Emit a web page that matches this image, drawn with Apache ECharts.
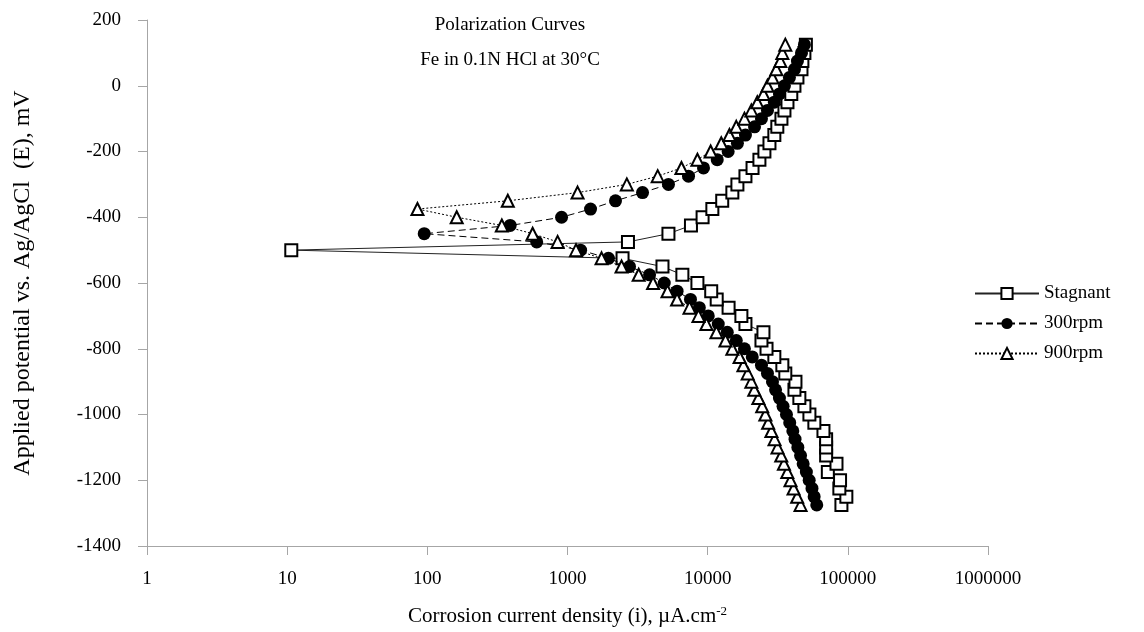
<!DOCTYPE html>
<html>
<head>
<meta charset="utf-8">
<script src="https://cdn.jsdelivr.net/npm/echarts@6/dist/echarts.min.js"></script>
<style>
  html, body { margin: 0; padding: 0; background: #fff; }
  #chart { width: 1144px; height: 632px; }
</style>
</head>
<body>
<div id="chart"></div>
<script>
// potential (mV), scan order from -1275 up to +125
const potential = [
  -1275, -1250, -1225, -1200, -1175, -1150, -1125, -1100, -1075, -1050,
  -1025, -1000, -975, -950, -925, -900, -875, -850, -825, -800,
  -775, -750, -725, -700, -675, -650, -625, -600, -575, -550,
  -525, -500, -475, -450, -425, -400, -375, -350, -325, -300,
  -275, -250, -225, -200, -175, -150, -125, -100, -75, -50,
  -25, 0, 25, 50, 75, 100, 125
]

// current density (uA/cm2) for each potential above
const stagnant = [
  90000, 97600, 87000, 88000, 72000, 83000, 70000, 70000, 70000, 67000,
  57700, 53200, 49000, 45100, 41600, 42300, 35800, 34100, 29900, 26300,
  24200, 25000, 18600, 17400, 14100, 11600, 10600, 8450, 6600, 4760,
  2470, 10.7, 2700, 5250, 7600, 9200, 10800, 12700, 15000, 16300,
  18600, 20900, 23400, 25400, 27600, 29900, 31400, 33600, 35300, 37100,
  39500, 41600, 43700, 46700, 47400, 49000, 50200
]
const rpm300 = [
  60000, 57500, 55500, 53000, 50600, 48000, 46000, 44000, 42000, 40500,
  38500, 36500, 34500, 32500, 30500, 29000, 26700, 24200, 20800, 18300,
  16000, 13800, 11900, 10100, 8720, 7540, 6050, 4900, 3850, 2770,
  1960, 1240, 603, 95, 390, 907, 1460, 2200, 3430, 5250,
  7300, 9340, 11700, 14000, 16300, 18600, 21600, 24200, 26700, 29900,
  32500, 35300, 38300, 41600, 43700, 46700, 49000
]
const rpm900 = [
  46000, 43500, 41000, 39000, 37000, 35000, 33500, 31500, 30000, 28500,
  27000, 25800, 24500, 23000, 21500, 20500, 19300, 18000, 16900, 15000,
  13400, 11550, 9800, 8600, 7420, 6050, 5170, 4080, 3220, 2430,
  1750, 1150, 850, 564, 340, 162, 85, 375, 1180, 2650,
  4400, 6500, 8450, 10500, 12500, 14300, 16000, 18300, 20500, 22600,
  25000, 26700, 29000, 30900, 33000, 34100, 35800
]

const seriesNames = ['Stagnant', '300rpm', '900rpm']
const yTicks = { min: -1400, max: 200, step: 200 }

const FONT = '"Liberation Serif", "DejaVu Serif", serif'

function pairs (currents) {
  return currents.map((c, i) => [c, potential[i]])
}

const chart = echarts.init(document.getElementById('chart'), null, { renderer: 'canvas' })

const option = {
  animation: false,
  backgroundColor: '#fff',
  textStyle: { fontFamily: FONT, color: '#000' },
  title: {
    text: 'Polarization Curves\nFe in 0.1N HCl at 30\u00B0C',
    left: 505,
    top: 3,
    textAlign: 'center',
    textStyle: {
      fontFamily: FONT,
      fontWeight: 'normal',
      fontSize: 19,
      lineHeight: 35,
      color: '#000'
    }
  },
  legend: {
    orient: 'vertical',
    left: 969,
    top: 279,
    itemWidth: 64,
    itemHeight: 14,
    itemGap: 11,
    textStyle: { fontFamily: FONT, fontSize: 19, color: '#000' },
    data: seriesNames
  },
  grid: {
    left: 147,
    right: 156,
    top: 20,
    bottom: 86,
    containLabel: false
  },
  xAxis: {
    type: 'log',
    logBase: 10,
    min: 1,
    max: 1000000,
    name: '{a|Corrosion current density (i), \u00B5A.cm}{s|-2}',
    nameLocation: 'middle',
    nameGap: 59,
    nameTextStyle: {
      rich: {
        a: { fontFamily: FONT, fontSize: 21, color: '#000' },
        s: { fontFamily: FONT, fontSize: 13, color: '#000', verticalAlign: 'top', padding: [0, 0, 9, 0] }
      }
    },
    axisLine: { show: true, onZero: false, lineStyle: { color: '#a6a6a6', width: 1 } },
    axisTick: { show: true, inside: false, length: 9, lineStyle: { color: '#a6a6a6' } },
    minorTick: { show: false },
    splitLine: { show: false },
    axisLabel: {
      fontFamily: FONT,
      fontSize: 19,
      color: '#000',
      margin: 24,
      formatter: function (v) { return String(Math.round(v)) }
    }
  },
  yAxis: {
    type: 'value',
    min: yTicks.min,
    max: yTicks.max,
    interval: yTicks.step,
    name: 'Applied potential vs. Ag/AgCl  (E), mV',
    nameLocation: 'middle',
    nameGap: 112,
    nameTextStyle: { fontFamily: FONT, fontSize: 24, color: '#000' },
    axisLine: { show: true, onZero: false, lineStyle: { color: '#a6a6a6', width: 1 } },
    axisTick: { show: true, inside: false, length: 9, lineStyle: { color: '#a6a6a6' } },
    splitLine: { show: false },
    axisLabel: {
      fontFamily: FONT,
      fontSize: 19,
      color: '#000',
      margin: 26,
      formatter: function (v) { return String(v) }
    }
  },
  series: [
    {
      name: seriesNames[0],
      type: 'line',
      data: pairs(stagnant),
      symbol: 'rect',
      symbolSize: 12,
      lineStyle: { color: '#222', width: 1, type: 'solid' },
      itemStyle: { color: '#fff', borderColor: '#000', borderWidth: 2 },
      z: 2
    },
    {
      name: seriesNames[1],
      type: 'line',
      data: pairs(rpm300),
      symbol: 'circle',
      symbolSize: 13,
      lineStyle: { color: '#000', width: 1, type: [7, 4] },
      itemStyle: { color: '#000', borderColor: '#000', borderWidth: 0 },
      z: 3
    },
    {
      name: seriesNames[2],
      type: 'line',
      data: pairs(rpm900),
      symbol: 'triangle',
      symbolSize: 12,
      lineStyle: { color: '#000', width: 1, type: [2, 2] },
      itemStyle: { color: '#fff', borderColor: '#000', borderWidth: 2 },
      z: 4
    }
  ]
}

chart.setOption(option)
</script>
</body>
</html>
